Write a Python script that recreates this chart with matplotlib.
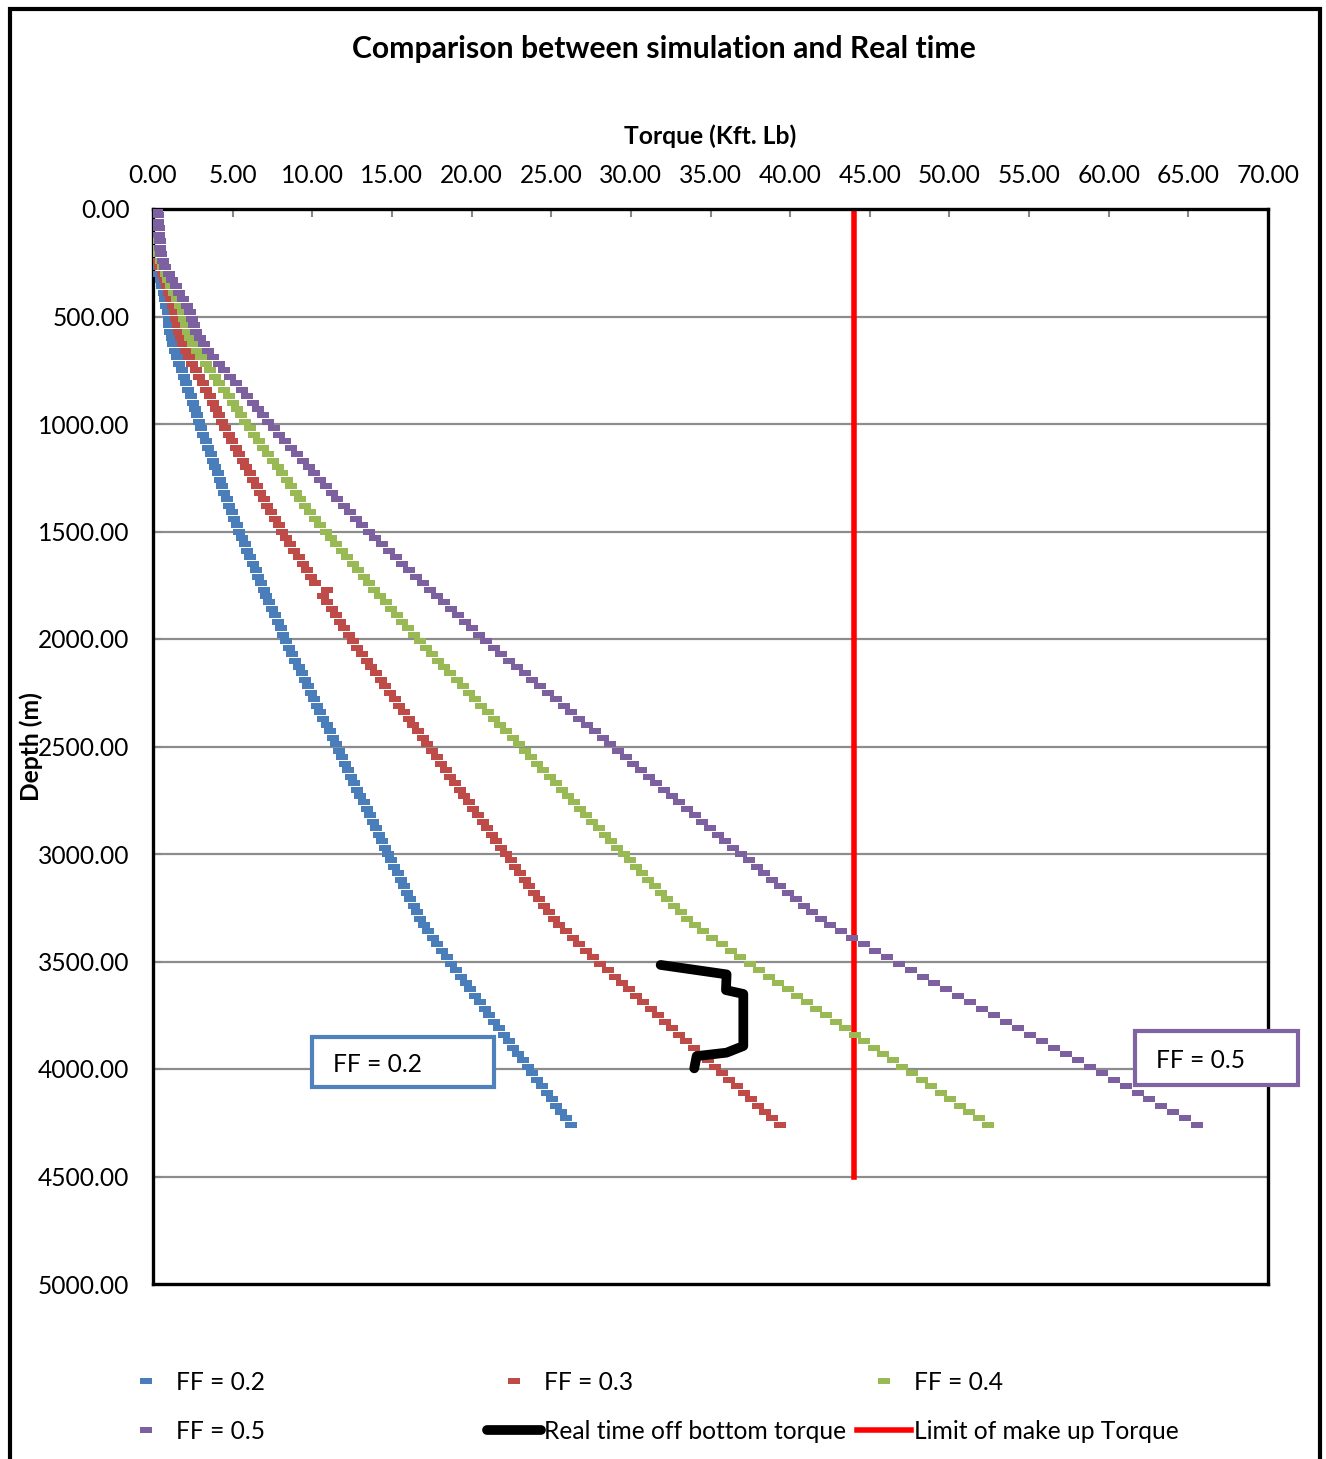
import matplotlib
matplotlib.use("Agg")
import matplotlib.pyplot as plt
from matplotlib.path import Path
from matplotlib.patches import Rectangle
from matplotlib.ticker import FormatStrFormatter

plt.rcParams['font.family'] = ['Lato', 'DejaVu Sans']

# Survey stations (m)
depth_m = [
    0, 30, 60, 90, 120, 150, 180, 210, 240, 270,
    300, 330, 360, 390, 420, 450, 480, 510, 540, 570,
    600, 630, 660, 690, 720, 750, 780, 810, 840, 870,
    900, 930, 960, 990, 1020, 1050, 1080, 1110, 1140, 1170,
    1200, 1230, 1260, 1290, 1320, 1350, 1380, 1410, 1440, 1470,
    1500, 1530, 1560, 1590, 1620, 1650, 1680, 1710, 1740, 1770,
    1800, 1830, 1860, 1890, 1920, 1950, 1980, 2010, 2040, 2070,
    2100, 2130, 2160, 2190, 2220, 2250, 2280, 2310, 2340, 2370,
    2400, 2430, 2460, 2490, 2520, 2550, 2580, 2610, 2640, 2670,
    2700, 2730, 2760, 2790, 2820, 2850, 2880, 2910, 2940, 2970,
    3000, 3030, 3060, 3090, 3120, 3150, 3180, 3210, 3240, 3270,
    3300, 3330, 3360, 3390, 3420, 3450, 3480, 3510, 3540, 3570,
    3600, 3630, 3660, 3690, 3720, 3750, 3780, 3810, 3840, 3870,
    3900, 3930, 3960, 3990, 4020, 4050, 4080, 4110, 4140, 4170,
    4200, 4230, 4260,
]

# Simulated torque (kft.lb) for each friction factor
torque_ff02 = [
    0.11, 0.12, 0.13, 0.14, 0.15, 0.17, 0.18, 0.20, 0.26, 0.31,
    0.40, 0.48, 0.57, 0.66, 0.76, 0.84, 0.93, 0.98, 1.02, 1.09,
    1.17, 1.27, 1.39, 1.51, 1.65, 1.79, 1.94, 2.08, 2.22, 2.37,
    2.50, 2.63, 2.76, 2.89, 3.03, 3.17, 3.32, 3.46, 3.61, 3.76,
    3.91, 4.05, 4.20, 4.34, 4.48, 4.63, 4.78, 4.94, 5.09, 5.25,
    5.42, 5.58, 5.75, 5.92, 6.09, 6.26, 6.44, 6.61, 6.78, 6.95,
    7.12, 7.30, 7.48, 7.65, 7.83, 8.01, 8.19, 8.37, 8.56, 8.75,
    8.94, 9.14, 9.33, 9.53, 9.72, 9.92, 10.12, 10.31, 10.51, 10.70,
    10.90, 11.10, 11.29, 11.49, 11.68, 11.87, 12.06, 12.26, 12.45, 12.64,
    12.83, 13.02, 13.22, 13.41, 13.60, 13.79, 13.98, 14.18, 14.37, 14.57,
    14.77, 14.96, 15.16, 15.36, 15.55, 15.75, 15.95, 16.15, 16.36, 16.56,
    16.77, 17.01, 17.28, 17.56, 17.85, 18.14, 18.43, 18.72, 19.02, 19.32,
    19.62, 19.92, 20.22, 20.52, 20.82, 21.12, 21.42, 21.72, 22.02, 22.32,
    22.62, 22.92, 23.22, 23.52, 23.82, 24.12, 24.42, 24.72, 25.02, 25.32,
    25.62, 25.92, 26.22,
]
torque_ff03 = [
    0.16, 0.18, 0.20, 0.22, 0.23, 0.25, 0.28, 0.30, 0.39, 0.47,
    0.60, 0.73, 0.86, 0.99, 1.13, 1.27, 1.40, 1.47, 1.54, 1.63,
    1.75, 1.91, 2.09, 2.27, 2.47, 2.69, 2.90, 3.12, 3.34, 3.55,
    3.76, 3.95, 4.14, 4.34, 4.55, 4.76, 4.97, 5.20, 5.42, 5.64,
    5.86, 6.08, 6.29, 6.51, 6.73, 6.95, 7.18, 7.40, 7.64, 7.88,
    8.12, 8.38, 8.63, 8.88, 9.14, 9.40, 9.65, 9.91, 10.17, 10.91,
    10.69, 10.95, 11.21, 11.48, 11.75, 12.02, 12.29, 12.56, 12.83, 13.12,
    13.41, 13.70, 14.00, 14.29, 14.59, 14.88, 15.17, 15.47, 15.76, 16.06,
    16.35, 16.64, 16.94, 17.23, 17.52, 17.81, 18.10, 18.38, 18.67, 18.96,
    19.25, 19.54, 19.82, 20.11, 20.40, 20.69, 20.98, 21.26, 21.56, 21.85,
    22.15, 22.45, 22.74, 23.03, 23.33, 23.63, 23.93, 24.23, 24.53, 24.84,
    25.16, 25.52, 25.92, 26.34, 26.77, 27.21, 27.65, 28.09, 28.54, 28.99,
    29.44, 29.89, 30.34, 30.79, 31.24, 31.69, 32.14, 32.59, 33.04, 33.49,
    33.94, 34.39, 34.84, 35.29, 35.74, 36.19, 36.64, 37.09, 37.54, 37.99,
    38.44, 38.89, 39.34,
]
torque_ff04 = [
    0.22, 0.24, 0.26, 0.29, 0.30, 0.34, 0.37, 0.40, 0.52, 0.62,
    0.80, 0.97, 1.14, 1.32, 1.51, 1.69, 1.86, 1.96, 2.05, 2.18,
    2.34, 2.54, 2.78, 3.02, 3.30, 3.58, 3.87, 4.16, 4.45, 4.74,
    5.01, 5.26, 5.52, 5.78, 6.06, 6.34, 6.63, 6.93, 7.22, 7.52,
    7.82, 8.10, 8.39, 8.68, 8.97, 9.26, 9.57, 9.87, 10.18, 10.50,
    10.83, 11.17, 11.50, 11.84, 12.18, 12.53, 12.87, 13.22, 13.56, 13.90,
    14.25, 14.60, 14.95, 15.30, 15.66, 16.02, 16.38, 16.74, 17.11, 17.50,
    17.88, 18.27, 18.66, 19.06, 19.45, 19.84, 20.23, 20.62, 21.02, 21.41,
    21.80, 22.19, 22.58, 22.98, 23.36, 23.74, 24.13, 24.51, 24.90, 25.28,
    25.66, 26.05, 26.43, 26.82, 27.20, 27.58, 27.97, 28.35, 28.74, 29.14,
    29.54, 29.93, 30.32, 30.71, 31.10, 31.50, 31.90, 32.30, 32.71, 33.12,
    33.54, 34.02, 34.56, 35.12, 35.70, 36.28, 36.86, 37.45, 38.05, 38.65,
    39.25, 39.85, 40.45, 41.05, 41.65, 42.25, 42.85, 43.45, 44.05, 44.65,
    45.25, 45.85, 46.45, 47.05, 47.65, 48.25, 48.85, 49.45, 50.05, 50.65,
    51.25, 51.85, 52.45,
]
torque_ff05 = [
    0.27, 0.30, 0.33, 0.36, 0.38, 0.42, 0.46, 0.50, 0.65, 0.78,
    1.00, 1.21, 1.43, 1.65, 1.89, 2.11, 2.33, 2.45, 2.56, 2.72,
    2.92, 3.18, 3.48, 3.78, 4.12, 4.48, 4.84, 5.20, 5.56, 5.92,
    6.26, 6.58, 6.90, 7.23, 7.58, 7.93, 8.29, 8.66, 9.03, 9.40,
    9.77, 10.13, 10.49, 10.85, 11.21, 11.58, 11.96, 12.34, 12.73, 13.13,
    13.54, 13.96, 14.38, 14.80, 15.23, 15.66, 16.09, 16.52, 16.95, 17.38,
    17.81, 18.25, 18.69, 19.13, 19.58, 20.03, 20.48, 20.93, 21.39, 21.87,
    22.35, 22.84, 23.33, 23.82, 24.31, 24.80, 25.29, 25.78, 26.27, 26.76,
    27.25, 27.74, 28.23, 28.72, 29.20, 29.68, 30.16, 30.64, 31.12, 31.60,
    32.08, 32.56, 33.04, 33.52, 34.00, 34.48, 34.96, 35.44, 35.93, 36.42,
    36.92, 37.41, 37.90, 38.39, 38.88, 39.38, 39.88, 40.38, 40.89, 41.40,
    41.93, 42.53, 43.20, 43.90, 44.62, 45.35, 46.08, 46.81, 47.56, 48.31,
    49.06, 49.81, 50.56, 51.31, 52.06, 52.81, 53.56, 54.31, 55.06, 55.81,
    56.56, 57.31, 58.06, 58.81, 59.56, 60.31, 61.06, 61.81, 62.56, 63.31,
    64.06, 64.81, 65.56,
]

# Measured off-bottom torque while drilling
realtime_torque = [31.87, 36.01, 35.97, 37.06, 37.06, 36.01, 34.13, 33.98]
realtime_depth = [3516, 3560, 3633, 3651, 3893, 3924, 3940, 3997]

# Make-up torque limit of the connections
makeup_limit_torque = [44.0, 44.0]
makeup_limit_depth = [0, 4500]

series_labels = ["FF = 0.2", "FF = 0.3", "FF = 0.4", "FF = 0.5"]
series_colors = ["#4A7EBB", "#BE4B48", "#98B954", "#7D60A0"]

x_ticks = [0, 5, 10, 15, 20, 25, 30, 35, 40, 45, 50, 55, 60, 65, 70]
y_ticks = [0, 500, 1000, 1500, 2000, 2500, 3000, 3500, 4000, 4500, 5000]

FS = 17.7

W, H = 1326, 1459
fig = plt.figure(figsize=(W / 100, H / 100), dpi=100)


def fx(px):
    return px / W


def fy(py):
    return 1 - py / H


ax = fig.add_axes([fx(153), fy(1284), fx(1268) - fx(153), fy(209) - fy(1284)])

# Flat dash used as the point marker
dash = Path([(-1, -0.5), (1, -0.5), (1, 0.5), (-1, 0.5), (-1, -0.5)],
            [Path.MOVETO, Path.LINETO, Path.LINETO, Path.LINETO, Path.CLOSEPOLY])

handles = []
for vals, lab, col in zip([torque_ff02, torque_ff03, torque_ff04, torque_ff05],
                          series_labels, series_colors):
    h, = ax.plot(vals, depth_m, ls='none', marker=dash, ms=8.3, mew=0,
                 mfc=col, label=lab, zorder=3)
    handles.append(h)

h_real, = ax.plot(realtime_torque, realtime_depth, color='black', lw=7,
                  solid_capstyle='round', solid_joinstyle='round', zorder=4,
                  label="Real time off bottom torque")
h_limit, = ax.plot(makeup_limit_torque, makeup_limit_depth, color='#FF0000',
                   lw=4, zorder=2, label="Limit of make up Torque")

ax.set_xlim(0, 70)
ax.set_ylim(5000, 0)
ax.set_xticks(x_ticks)
ax.set_yticks(y_ticks)
ax.xaxis.tick_top()
ax.xaxis.set_major_formatter(FormatStrFormatter('%.2f'))
ax.yaxis.set_major_formatter(FormatStrFormatter('%.2f'))
ax.tick_params(axis='both', direction='in', length=6, width=1.5,
               color='#888888', labelsize=FS)
ax.tick_params(axis='x', pad=16)
ax.tick_params(axis='y', pad=17)
for s in ax.spines.values():
    s.set_linewidth(2.4)
    s.set_color('black')

for d in y_ticks[1:-1]:
    ax.axhline(d, color='#8C8C8C', lw=1.6, zorder=1)

ax.set_xlabel("Torque (Kft. Lb)", fontsize=FS, fontweight='bold')
ax.xaxis.set_label_position('top')
ax.xaxis.set_label_coords(0.5, (1284 - 136) / 1075)
ax.xaxis.label.set_va('center')
ax.set_ylabel("Depth (m)", fontsize=FS, fontweight='bold')
ax.yaxis.set_label_coords((31 - 153) / 1115, 0.5)
ax.yaxis.label.set_va('center')

fig.text(fx(664), fy(49), "Comparison between simulation and Real time",
         ha='center', va='center', fontsize=21.7, fontweight='bold')

# Outer chart border
fig.add_artist(Rectangle((fx(9.5), fy(1470)), fx(1320) - fx(9.5), fy(9) - fy(1470),
                         transform=fig.transFigure, fill=False, ec='black', lw=3,
                         zorder=0))

# Call-out boxes naming the outer curves
for (x0, y0, x1, y1, tx, ty, txt, ec) in [
        (312, 1037, 494, 1087, 333, 1064, "FF = 0.2", "#4F81BD"),
        (1135, 1031, 1298, 1085, 1156, 1060, "FF = 0.5", "#8064A2")]:
    fig.add_artist(Rectangle((fx(x0), fy(y1)), fx(x1) - fx(x0), fy(y0) - fy(y1),
                             transform=fig.transFigure, fc='white', ec=ec, lw=3,
                             zorder=5))
    fig.text(fx(tx), fy(ty), txt, ha='left', va='center', fontsize=FS, zorder=6)

# Legend laid out in three columns
leg_kw = dict(frameon=False, fontsize=FS, loc='center left', borderpad=0,
              borderaxespad=0, handlelength=2.2, handletextpad=0.12,
              labelspacing=1.05, numpoints=1)
fig.legend(handles=[handles[0], handles[3]], labels=[series_labels[0], series_labels[3]],
           bbox_to_anchor=(fx(119), fy(1407)), **leg_kw)
fig.legend(handles=[handles[1], h_real],
           labels=[series_labels[1], "Real time off bottom torque"],
           bbox_to_anchor=(fx(487), fy(1407)), **leg_kw)
fig.legend(handles=[handles[2], h_limit],
           labels=[series_labels[2], "Limit of make up Torque"],
           bbox_to_anchor=(fx(857), fy(1407)), **leg_kw)

fig.savefig("out.png", dpi=100)
